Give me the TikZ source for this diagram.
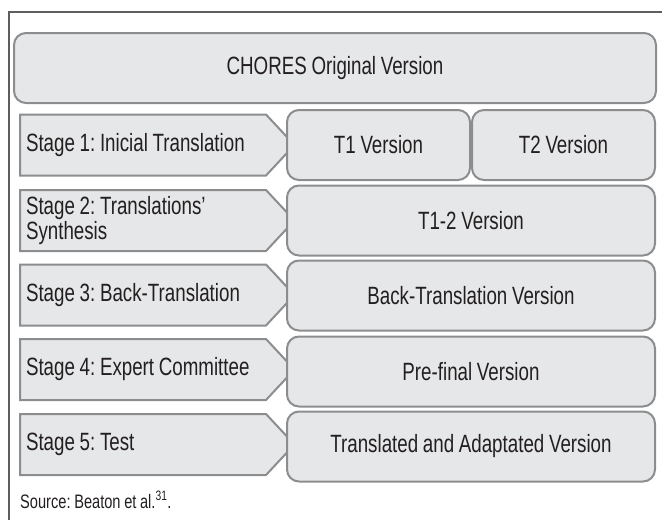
\documentclass[tikz,border=0pt]{standalone}
\usepackage{fontspec}
\setmainfont[FakeStretch=0.75,WordSpace=0.9]{Liberation Sans}
\usepackage{tikz}
\usetikzlibrary{shapes.symbols}
\definecolor{boxfill}{HTML}{E6E7E8}
\definecolor{boxline}{HTML}{8C8D8F}
\definecolor{ink}{HTML}{231F20}
\definecolor{framegray}{HTML}{5E5E5E}
\frenchspacing
\tikzset{
    version/.style={rectangle,rounded corners=12pt,draw=boxline,fill=boxfill,line width=2pt,
        text=ink,font=\fontsize{25}{25}\selectfont,minimum height=70pt,inner sep=0pt},
    stage/.style={signal,signal to=east,signal pointer angle=94,draw=boxline,fill=boxfill,
        line width=2pt,text=ink,font=\fontsize{25}{25}\selectfont,align=flush left,
        text width=234pt,minimum height=61pt,inner xsep=6pt,inner ysep=0pt,anchor=west},
    frameline/.style={draw=framegray,line width=1.2pt},
    source/.style={text=ink,font=\fontsize{19.5}{20}\selectfont,inner sep=0pt,anchor=base west},
}
\begin{document}
\begin{tikzpicture}[x=1pt,y=-1pt]
    \useasboundingbox (0,0) rectangle (662,520);
    \coordinate (fbl) at (9,520);
    \coordinate (ftl) at (9,12);
    \coordinate (ftr) at (662,12);
    \draw[frameline] (fbl) -- (ftl) -- (ftr);

    \node[version,minimum width=642pt] (orig) at (335,68) {CHORES Original Version};

    \node[stage] (s1) at (19,145) {Stage 1: Inicial Translation};
    \node[stage] (s2) at (19,220.5) {Stage 2: Translations’\\Synthesis};
    \node[stage] (s3) at (19,295) {Stage 3: Back-Translation};
    \node[stage] (s4) at (19,369.5) {Stage 4: Expert Committee};
    \node[stage] (s5) at (19,444.5) {Stage 5: Test};

    \node[version,minimum width=183pt] (t1) at (378.5,145) {T1 Version};
    \node[version,minimum width=183pt] (t2) at (563.5,145) {T2 Version};
    \node[version,minimum width=368pt] (t12) at (471,220.5) {T1-2 Version};
    \node[version,minimum width=368pt] (back) at (471,295.5) {Back-Translation Version};
    \node[version,minimum width=368pt] (prefinal) at (471,371.5) {Pre-final Version};
    \node[version,minimum width=368pt] (final) at (471,446.5) {Translated and Adaptated Version};

    \node[source] (src) at (20,508) {Source: Beaton et al.\textsuperscript{31}.};
\end{tikzpicture}
\end{document}
